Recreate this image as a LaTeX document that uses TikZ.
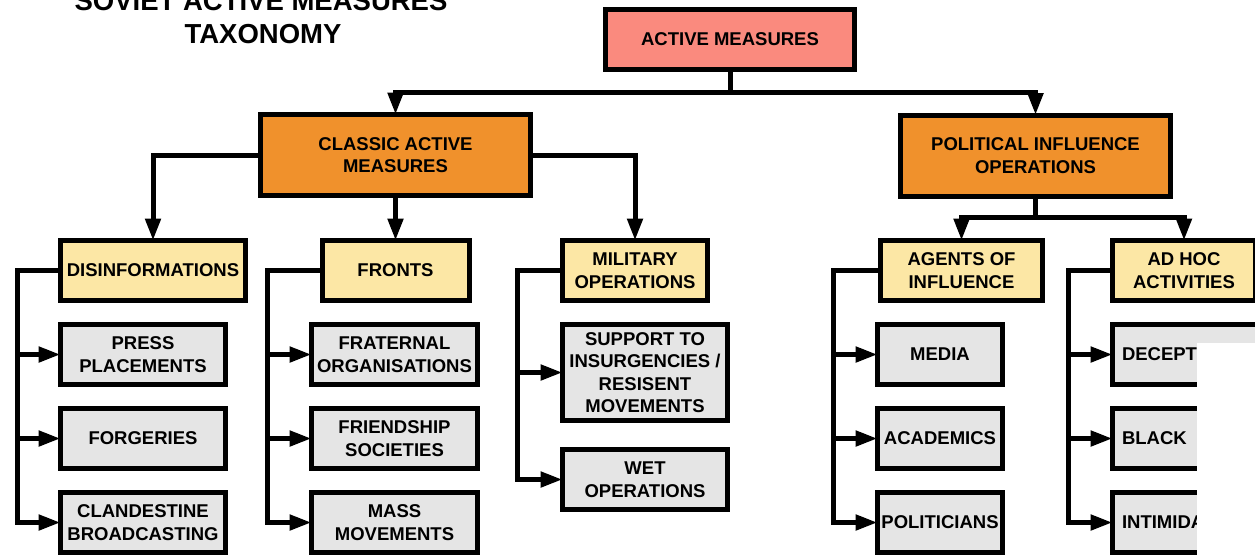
\documentclass[tikz,border=0pt]{standalone}
\usepackage{fontspec}
\setmainfont{Liberation Sans}
\usetikzlibrary{positioning,arrows.meta}

\definecolor{rootred}{HTML}{FA8A7E}
\definecolor{mainorange}{HTML}{F0912C}
\definecolor{groupyellow}{HTML}{FCE7A5}
\definecolor{leafgray}{HTML}{E5E5E5}

\tikzset{
    box/.style={draw,line width=5pt,align=center,inner sep=0pt,outer sep=0pt,
        font=\bfseries\fontsize{18.5}{22.5}\selectfont},
    rootbox/.style={box,fill=rootred,minimum width=249pt,minimum height=60pt},
    mainbox/.style={box,fill=mainorange,minimum width=270pt,minimum height=81pt},
    groupbox/.style={box,fill=groupyellow,minimum height=60pt},
    leafbox/.style={box,fill=leafgray,minimum width=165pt,minimum height=60pt},
    edgeleaf/.style={leafbox,text width=146pt,align=left},
    heading/.style={anchor=base,font=\bfseries\fontsize{27.5}{33}\selectfont},
    link/.style={line width=5pt,>={Triangle[length=22pt,width=15pt]}},
}

\begin{document}
\begin{tikzpicture}[x=1pt,y=-1pt]
    \useasboundingbox (0,0) rectangle (1255,558);
    \clip (0,0) rectangle (1255,558);

    \draw
        node[heading] (title) at (261,10) {SOVIET ACTIVE MEASURES}
        node[heading] (subtitle) at (263,43) {TAXONOMY}

        node[rootbox] (active) at (730,39.5) {ACTIVE MEASURES}

        node[mainbox] (classic) at (395.5,155) {CLASSIC ACTIVE\\MEASURES}
        node[mainbox] (political) at (1035.5,155.5) {POLITICAL INFLUENCE\\OPERATIONS}

        node[groupbox,minimum width=185pt] (disinfo) at (153,270.5) {DISINFORMATIONS}
        node[leafbox] (press) at (143,354.5) {PRESS\\PLACEMENTS}
        node[leafbox,below=24pt of press] (forgeries) {FORGERIES}
        node[leafbox,below=24pt of forgeries] (clandestine) {CLANDESTINE\\BROADCASTING}

        node[groupbox,minimum width=147pt] (fronts) at (395.5,270.5) {FRONTS}
        node[leafbox,minimum width=166pt] (fraternal) at (394.5,354.5) {FRATERNAL\\ORGANISATIONS}
        node[leafbox,minimum width=166pt,below=24pt of fraternal] (friendship) {FRIENDSHIP\\SOCIETIES}
        node[leafbox,minimum width=166pt,below=24pt of friendship] (mass) {MASS\\MOVEMENTS}

        node[groupbox,minimum width=145pt] (military) at (635,270.5) {MILITARY\\OPERATIONS}
        node[leafbox,minimum height=96pt] (insurgency) at (645,372.5) {SUPPORT TO\\INSURGENCIES /\\RESISENT\\MOVEMENTS}
        node[leafbox,below=29pt of insurgency] (wet) {WET\\OPERATIONS}

        node[groupbox,minimum width=162pt] (agents) at (961.5,270.5) {AGENTS OF\\INFLUENCE}
        node[leafbox,minimum width=125pt] (media) at (940,354.5) {MEDIA}
        node[leafbox,minimum width=125pt,below=24pt of media] (academics) {ACADEMICS}
        node[leafbox,minimum width=125pt,below=24pt of academics] (politicians) {POLITICIANS}

        node[groupbox,minimum width=143pt] (adhoc) at (1184,270.5) {AD HOC\\ACTIVITIES}
        node[edgeleaf] (deception) at (1195,354.5) {DECEPT}
        node[edgeleaf,below=24pt of deception] (blackmail) {BLACK}
        node[edgeleaf,below=24pt of blackmail] (intimidation) {INTIMIDA}
    ;

    \draw[link,->] (active.south) -- ++(0,22.5) -| (classic.north);
    \draw[link,->] (active.south) -- ++(0,22.5) -| (political.north);

    \draw[link,->] (classic.west) -| (disinfo.north);
    \draw[link,->] (classic.south) -- (fronts.north);
    \draw[link,->] (classic.east) -| (military.north);

    \draw[link,->] (political.south) -- ++(0,21) -| (agents.north);
    \draw[link,->] (political.south) -- ++(0,21) -| (adhoc.north);

    \draw[link,->] (disinfo.west) -- ++(-43.5,0) |- (press.west);
    \draw[link,->] (disinfo.west) -- ++(-43.5,0) |- (forgeries.west);
    \draw[link,->] (disinfo.west) -- ++(-43.5,0) |- (clandestine.west);

    \draw[link,->] (fronts.west) -- ++(-55,0) |- (fraternal.west);
    \draw[link,->] (fronts.west) -- ++(-55,0) |- (friendship.west);
    \draw[link,->] (fronts.west) -- ++(-55,0) |- (mass.west);

    \draw[link,->] (military.west) -- ++(-45.5,0) |- (insurgency.west);
    \draw[link,->] (military.west) -- ++(-45.5,0) |- (wet.west);

    \draw[link,->] (agents.west) -- ++(-47.5,0) |- (media.west);
    \draw[link,->] (agents.west) -- ++(-47.5,0) |- (academics.west);
    \draw[link,->] (agents.west) -- ++(-47.5,0) |- (politicians.west);

    \draw[link,->] (adhoc.west) -- ++(-44.5,0) |- (deception.west);
    \draw[link,->] (adhoc.west) -- ++(-44.5,0) |- (blackmail.west);
    \draw[link,->] (adhoc.west) -- ++(-44.5,0) |- (intimidation.west);

    \fill[white] (1197,343) rectangle (1255,558);
\end{tikzpicture}
\end{document}
